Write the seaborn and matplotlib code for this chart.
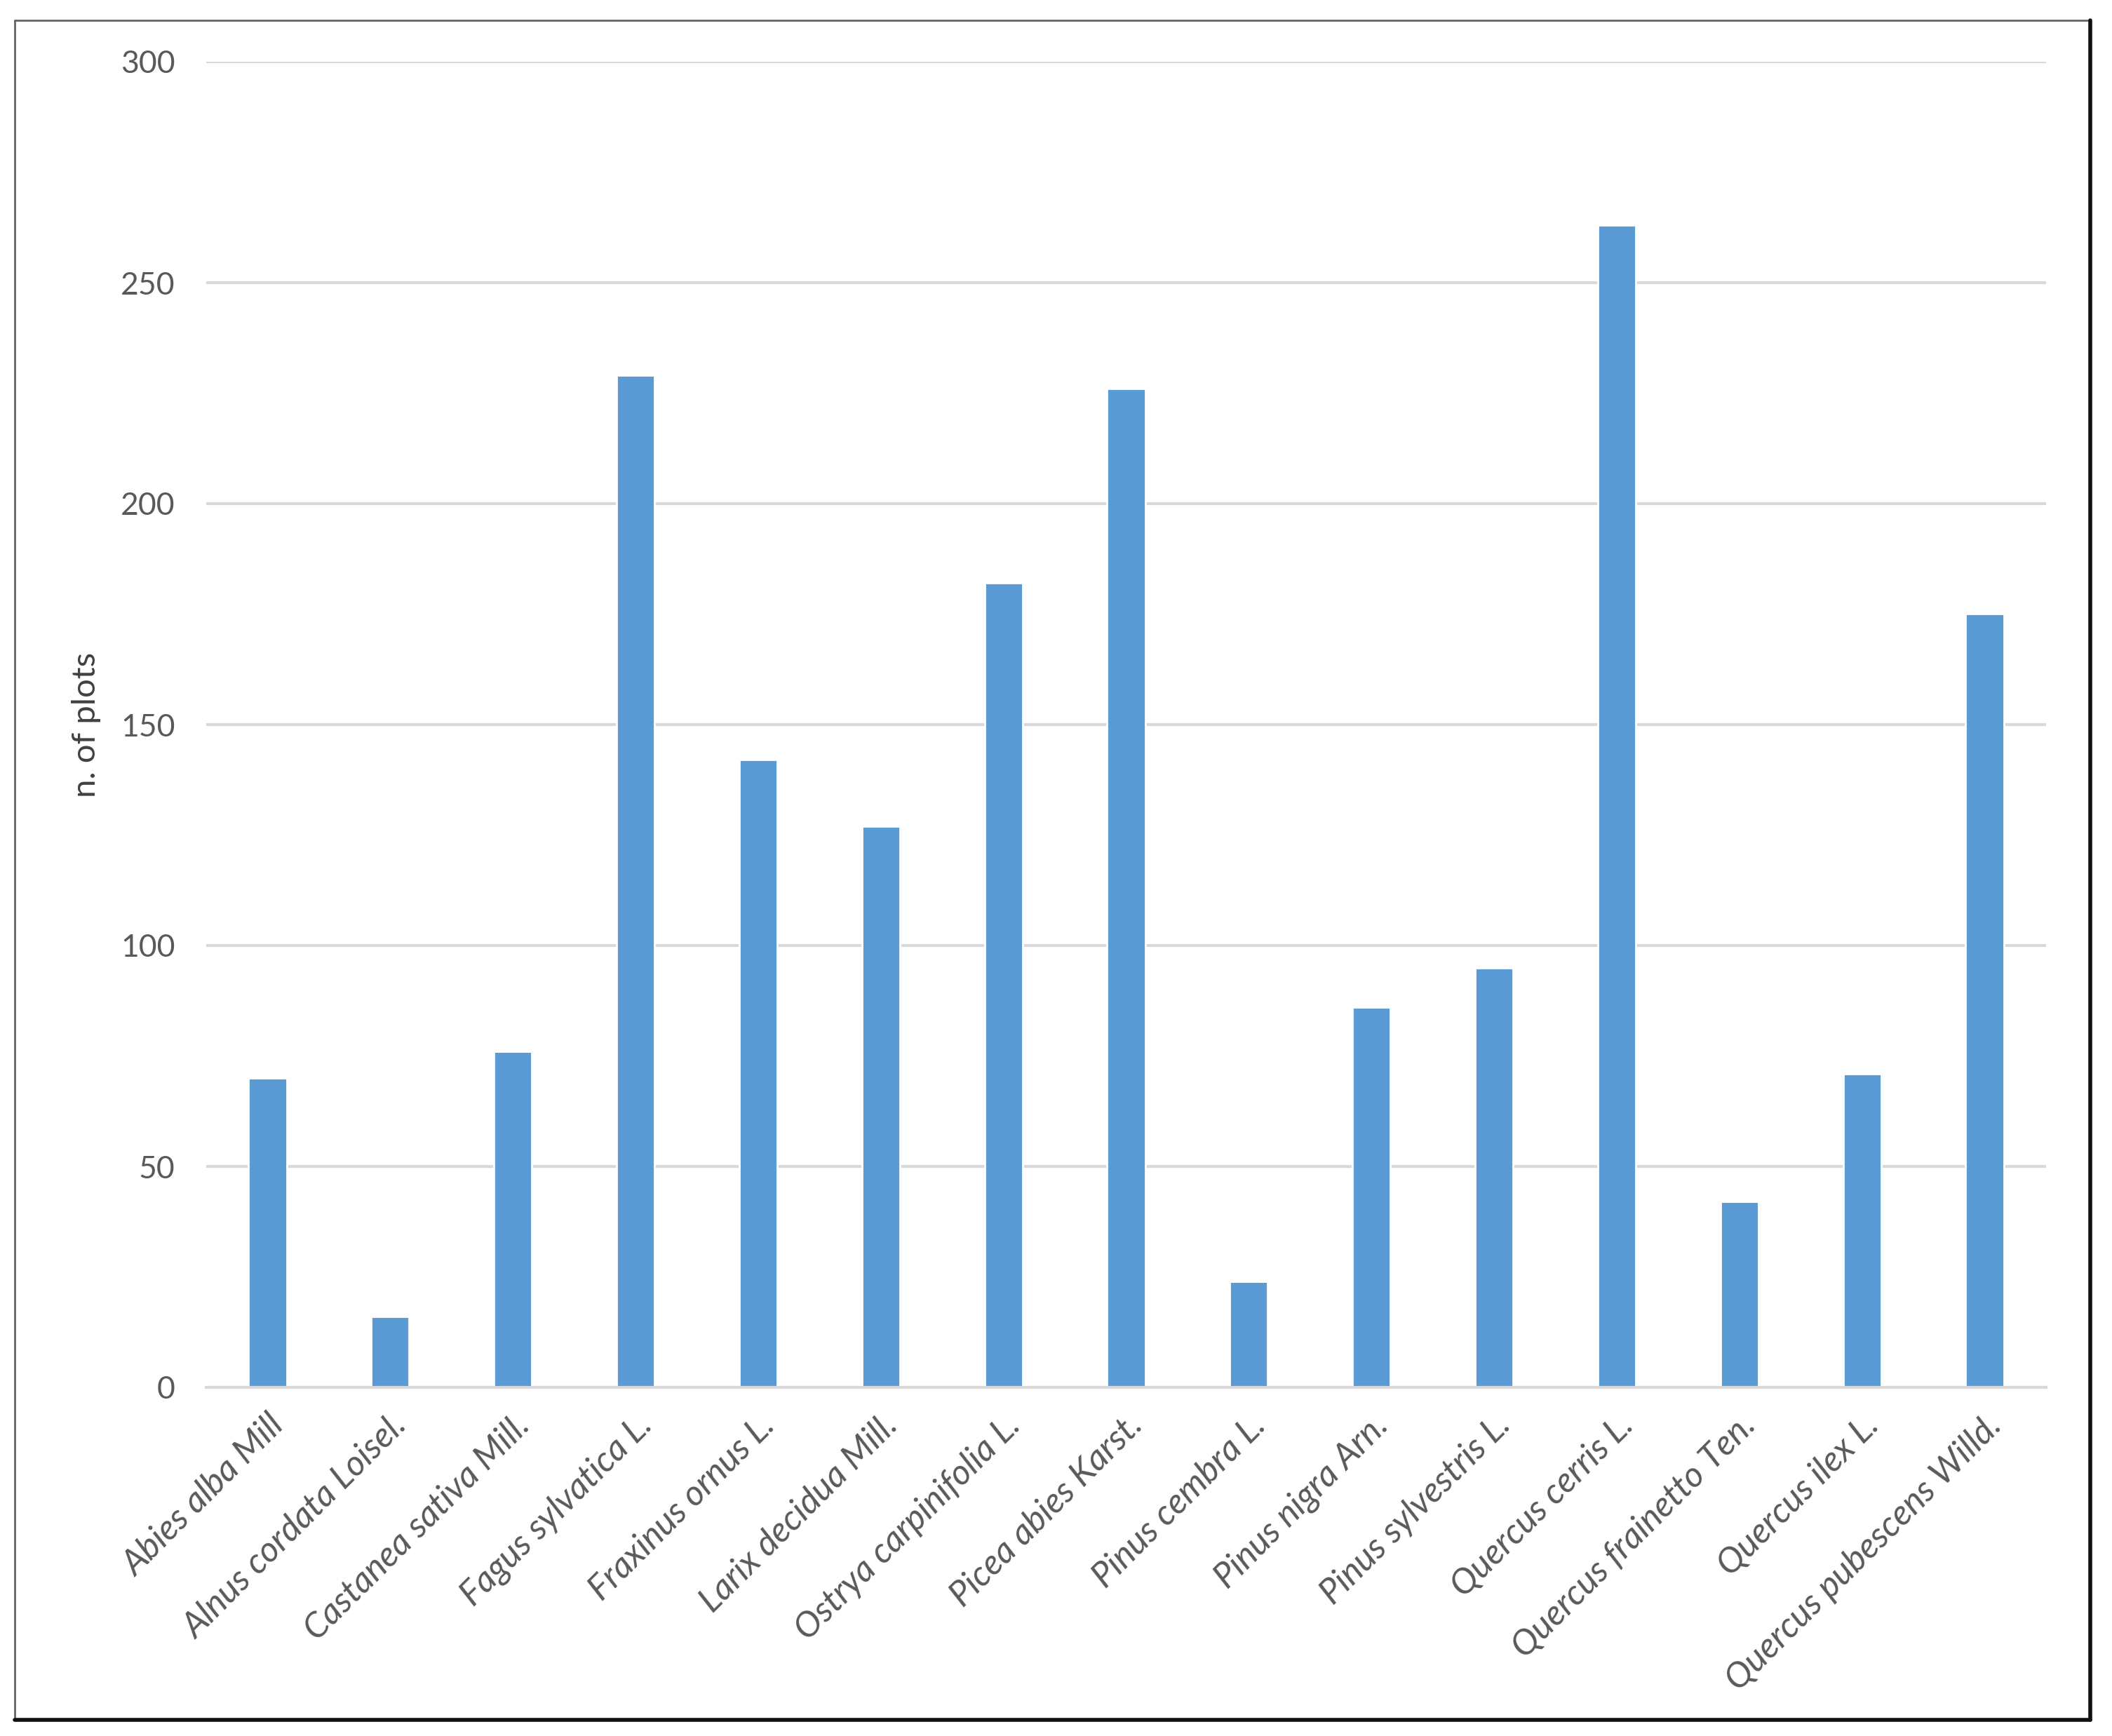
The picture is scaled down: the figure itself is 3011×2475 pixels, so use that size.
import numpy as np
import pandas as pd
import matplotlib
matplotlib.use("Agg")
import matplotlib.pyplot as plt
from matplotlib.lines import Line2D
import seaborn as sns

# dados
especies = ['Abies alba Mill', 'Alnus cordata Loisel.', 'Castanea sativa Mill.',
            'Fagus sylvatica L.', 'Fraxinus ornus L.', 'Larix decidua Mill.',
            'Ostrya carpinifolia L.', 'Picea abies Karst.', 'Pinus cembra L.',
            'Pinus nigra Arn.', 'Pinus sylvestris L.', 'Quercus cerris L.',
            'Quercus frainetto Ten.', 'Quercus ilex L.', 'Quercus pubescens Willd.']
n_plots = [70, 16, 76, 229, 142, 127, 182, 226, 24, 86, 95, 263, 42, 71, 175]
y_ticks = [0, 50, 100, 150, 200, 250, 300]

df = pd.DataFrame({'species': especies, 'plots': n_plots})

sns.set_style('white')
plt.rcParams['font.family'] = ['Lato', 'DejaVu Sans']

W, H = 3011, 2475
fig = plt.figure(figsize=(W / 200, H / 200), dpi=200)
ax = fig.add_axes([294 / W, 1 - 1978 / H, (2917 - 294) / W, (1978 - 88) / H])

sns.barplot(data=df, x='species', y='plots', color='#5B9BD5', saturation=1,
            width=0.31, ax=ax, zorder=3)

ax.set_ylim(0, 300)
ax.set_xlim(-0.5, len(especies) - 0.5)
ax.set_yticks(y_ticks)
ax.yaxis.grid(True, color='#D9D9D9', linewidth=1.5, zorder=0)
ax.set_axisbelow(True)
for s in ['top', 'right', 'left']:
    ax.spines[s].set_visible(False)
ax.spines['bottom'].set_color('#D9D9D9')
ax.spines['bottom'].set_linewidth(1.5)
ax.spines['bottom'].set_zorder(4)

ax.tick_params(axis='y', length=0, pad=16, labelsize=16, labelcolor='#595959')
ax.tick_params(axis='x', which='major', length=0, pad=11)
ax.set_xticks(np.arange(-0.5, len(especies)), minor=True)
ax.tick_params(axis='x', which='minor', length=7, width=1.5, color='#D9D9D9')
ax.set_xticks(range(len(especies)))
ax.set_xticklabels(especies, rotation=45, ha='right', rotation_mode='anchor',
                   fontsize=18, style='italic', color='#595959')
ax.set_xlabel('')
ax.set_ylabel('n. of plots', fontsize=17, color='#404040', labelpad=10)

# moldura externa
x0, x1 = 21 / W, 2980 / W
y0, y1 = 1 - 2452 / H, 1 - 29 / H
fig.add_artist(Line2D([x0, x1], [y1, y1], color='#666666', lw=1.0, transform=fig.transFigure))
fig.add_artist(Line2D([x0, x0], [y0, y1], color='#666666', lw=1.0, transform=fig.transFigure))
fig.add_artist(Line2D([x1, x1], [y0, y1], color='#111111', lw=2.0, transform=fig.transFigure))
fig.add_artist(Line2D([x0, x1], [y0, y0], color='#111111', lw=2.0, transform=fig.transFigure))

fig.savefig('out.png', dpi=200, facecolor='white')
